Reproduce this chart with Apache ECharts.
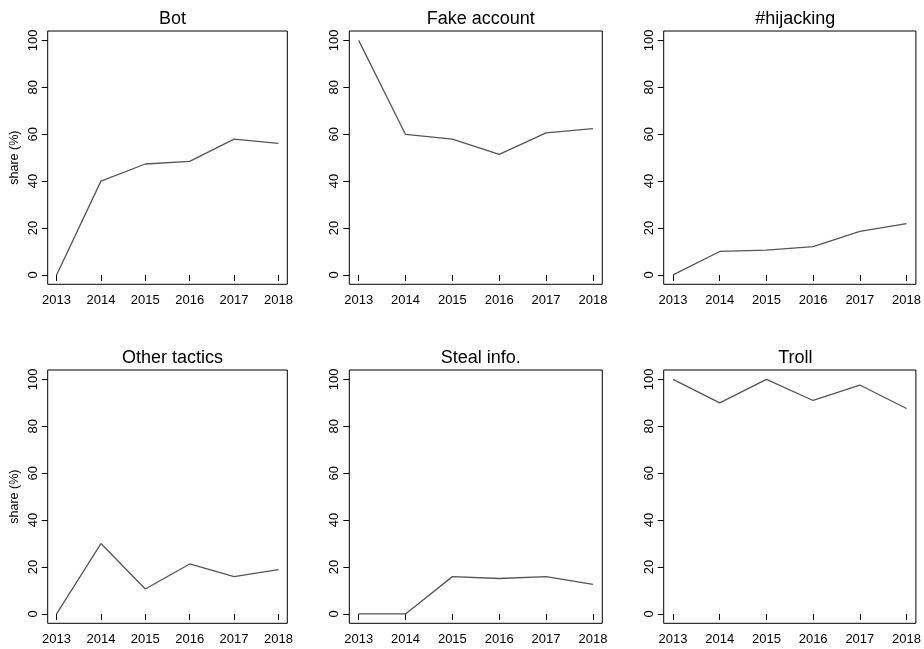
<!DOCTYPE html>
<html>
<head>
<meta charset="utf-8">
<script src="https://cdn.jsdelivr.net/npm/echarts@6/dist/echarts.min.js"></script>
<style>
html,body{margin:0;padding:0;background:#fff;}
#chart{width:924px;height:649px;}
</style>
</head>
<body>
<div id="chart"></div>
<script>
const years = [2013, 2014, 2015, 2016, 2017, 2018];
const yTicks = [0, 20, 40, 60, 80, 100];
const titles = ["Bot", "Fake account", "#hijacking", "Other tactics", "Steal info.", "Troll"];
const bot = [0, 40, 47.3, 48.4, 57.9, 56.1];
const fakeAccount = [100, 59.9, 57.9, 51.4, 60.6, 62.4];
const hijacking = [0, 10, 10.6, 12.1, 18.6, 21.9];
const otherTactics = [0, 30, 10.6, 21.3, 15.9, 18.9];
const stealInfo = [0, 0, 15.9, 15.1, 15.9, 12.6];
const troll = [100, 90, 100, 91, 97.6, 87.6];
const yName = "share (%)";

const seriesValues = [bot, fakeAccount, hijacking, otherTactics, stealInfo, troll];

const layout = [
  {left: 47.7, top: 31, width: 239.6, height: 253.3},
  {left: 349.3, top: 31, width: 253, height: 253.3},
  {left: 663.7, top: 31, width: 253.3, height: 253.3},
  {left: 47.7, top: 370, width: 239.6, height: 253.3},
  {left: 349.3, top: 370, width: 253, height: 253.3},
  {left: 663.7, top: 370, width: 253.3, height: 253.3}
];
const FONT = "Liberation Sans, Arial, Helvetica, sans-serif";

const grids = [], xAxes = [], yAxes = [], series = [], titleOpts = [];
layout.forEach((g, i) => {
  grids.push({left: g.left, top: g.top, width: g.width, height: g.height,
    show: true, borderColor: '#000', borderWidth: 1, backgroundColor: 'transparent'});
  xAxes.push({
    type: 'value', gridIndex: i, min: 2012.8, max: 2018.2,
    splitLine: {show: false},
    axisLine: {show: false},
    axisTick: {show: true, length: 6, customValues: years, lineStyle: {color: '#000', width: 1}},
    axisLabel: {customValues: years, color: '#000', fontSize: 13, fontFamily: FONT, margin: 10,
      formatter: v => String(v), showMinLabel: true, showMaxLabel: true}
  });
  yAxes.push({
    type: 'value', gridIndex: i, min: -4, max: 104,
    splitLine: {show: false},
    axisLine: {show: false},
    axisTick: {show: true, length: 6, customValues: yTicks, lineStyle: {color: '#000', width: 1}},
    axisLabel: {customValues: yTicks, color: '#000', fontSize: 13, fontFamily: FONT, margin: 8, rotate: 90,
      formatter: v => String(v)},
    name: (i % 3 === 0) ? yName : '',
    nameLocation: 'middle', nameRotate: 90, nameGap: 27,
    nameTextStyle: {color: '#000', fontSize: 12.5, fontFamily: FONT}
  });
  series.push({
    type: 'line', xAxisIndex: i, yAxisIndex: i, symbol: 'none',
    lineStyle: {color: '#555', width: 1.3},
    data: years.map((y, k) => [y, seriesValues[i][k]]),
    animation: false
  });
  titleOpts.push({
    text: titles[i], left: g.left + g.width / 2, top: g.top - 25.5, textAlign: 'center',
    textStyle: {color: '#000', fontSize: 18, fontWeight: 'normal', fontFamily: FONT}
  });
});

const chart = echarts.init(document.getElementById('chart'), null, {renderer: 'canvas'});
chart.setOption({
  animation: false,
  backgroundColor: '#fff',
  title: titleOpts,
  grid: grids,
  xAxis: xAxes,
  yAxis: yAxes,
  series: series
});
</script>
</body>
</html>
